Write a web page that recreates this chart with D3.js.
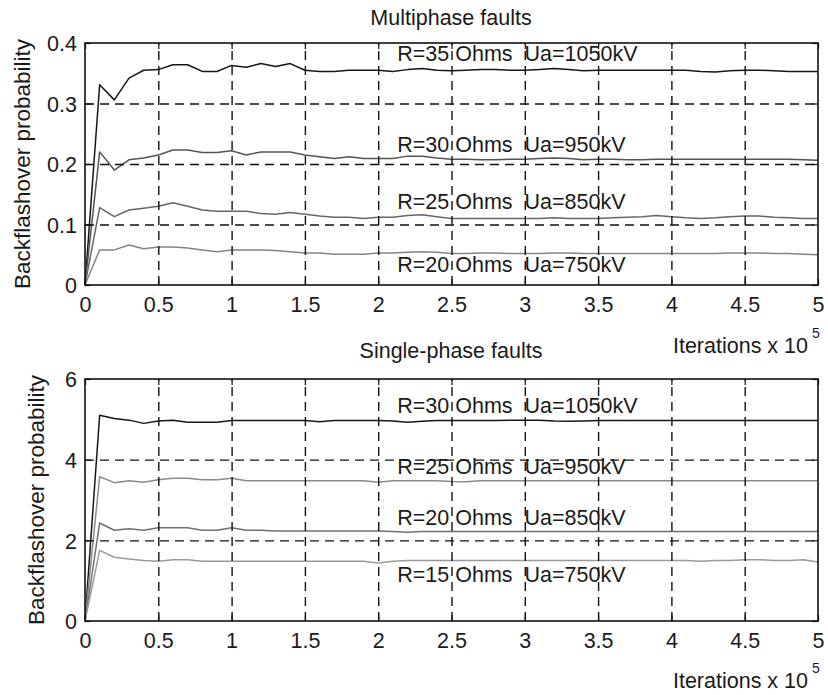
<!DOCTYPE html>
<html>
<head>
<meta charset="utf-8">
<script src="https://cdn.jsdelivr.net/npm/d3@7"></script>
<style>
  html, body { margin: 0; padding: 0; background: #fff; }
  svg { display: block; }
  text { font-family: "Liberation Sans", Arial, Helvetica, sans-serif; fill: #1a1a1a; }
</style>
</head>
<body>
<svg id="chart" width="828" height="695"></svg>
<script>
// ---------------- DATA ----------------
const iterations = [0,0.1,0.2,0.3,0.4,0.5,0.6,0.7,0.8,0.9,1.0,1.1,1.2,1.3,1.4,1.5,1.6,1.7,1.8,1.9,2.0,2.1,2.2,2.3,2.4,2.5,2.6,2.7,2.8,2.9,3.0,3.1,3.2,3.3,3.4,3.5,3.6,3.7,3.8,3.9,4.0,4.1,4.2,4.3,4.4,4.5,4.6,4.7,4.8,4.9,5.0];

const xTicks = [0,0.5,1,1.5,2,2.5,3,3.5,4,4.5,5];
const multiYTicks = [0,0.1,0.2,0.3,0.4];
const singleYTicks = [0,2,4,6];

const multiR35 = [0,0.331,0.306,0.342,0.355,0.356,0.364,0.364,0.353,0.353,0.363,0.360,0.366,0.361,0.366,0.355,0.353,0.353,0.355,0.355,0.355,0.353,0.356,0.358,0.355,0.354,0.355,0.356,0.356,0.355,0.355,0.356,0.358,0.356,0.354,0.355,0.355,0.355,0.355,0.355,0.355,0.355,0.353,0.352,0.354,0.355,0.355,0.354,0.353,0.353,0.353];
const multiR30 = [0,0.220,0.190,0.207,0.210,0.215,0.223,0.223,0.219,0.219,0.222,0.215,0.220,0.220,0.220,0.215,0.212,0.209,0.212,0.209,0.209,0.209,0.213,0.213,0.210,0.208,0.208,0.207,0.207,0.208,0.208,0.209,0.210,0.209,0.207,0.208,0.208,0.207,0.207,0.208,0.208,0.208,0.208,0.208,0.208,0.208,0.208,0.208,0.208,0.207,0.206];
const multiR25 = [0,0.128,0.113,0.124,0.127,0.130,0.136,0.130,0.124,0.122,0.122,0.122,0.118,0.117,0.120,0.117,0.114,0.112,0.112,0.110,0.112,0.112,0.115,0.116,0.113,0.110,0.110,0.110,0.110,0.110,0.110,0.110,0.111,0.110,0.110,0.110,0.111,0.112,0.113,0.115,0.113,0.111,0.110,0.111,0.113,0.114,0.114,0.112,0.111,0.110,0.110];
const multiR20 = [0,0.058,0.058,0.066,0.060,0.063,0.063,0.061,0.058,0.055,0.058,0.058,0.058,0.057,0.055,0.053,0.053,0.051,0.051,0.051,0.053,0.053,0.054,0.055,0.054,0.052,0.052,0.053,0.053,0.052,0.052,0.052,0.053,0.053,0.052,0.052,0.052,0.052,0.052,0.052,0.052,0.052,0.052,0.052,0.053,0.053,0.053,0.052,0.052,0.051,0.050];

const singleR30 = [0,5.10,5.02,4.98,4.90,4.96,4.98,4.93,4.93,4.93,4.97,4.97,4.97,4.97,4.97,4.97,4.94,4.97,4.97,4.97,4.97,4.96,4.93,4.95,4.97,4.97,4.97,4.97,4.97,4.98,4.98,4.98,4.96,4.95,4.96,4.97,4.97,4.97,4.97,4.97,4.97,4.97,4.97,4.97,4.97,4.97,4.97,4.97,4.97,4.97,4.97];
const singleR25 = [0,3.58,3.43,3.48,3.44,3.50,3.54,3.54,3.50,3.50,3.54,3.48,3.48,3.48,3.48,3.48,3.48,3.48,3.48,3.48,3.44,3.48,3.48,3.48,3.48,3.46,3.45,3.48,3.48,3.48,3.48,3.48,3.48,3.48,3.48,3.48,3.48,3.48,3.48,3.48,3.48,3.48,3.48,3.48,3.48,3.48,3.48,3.48,3.48,3.48,3.48];
const singleR20 = [0,2.43,2.25,2.29,2.25,2.31,2.31,2.31,2.25,2.25,2.31,2.25,2.25,2.23,2.23,2.23,2.23,2.23,2.23,2.23,2.23,2.22,2.20,2.22,2.22,2.22,2.22,2.22,2.22,2.22,2.22,2.22,2.22,2.22,2.22,2.22,2.22,2.22,2.22,2.22,2.22,2.22,2.22,2.22,2.22,2.22,2.22,2.22,2.22,2.22,2.22];
const singleR15 = [0,1.75,1.58,1.54,1.50,1.48,1.52,1.52,1.48,1.48,1.48,1.48,1.48,1.48,1.48,1.48,1.48,1.48,1.48,1.48,1.44,1.48,1.50,1.50,1.50,1.50,1.50,1.50,1.50,1.50,1.50,1.50,1.50,1.50,1.50,1.50,1.50,1.50,1.50,1.50,1.50,1.50,1.48,1.50,1.50,1.52,1.52,1.50,1.50,1.52,1.46];

const multiLabels = ["R=35 Ohms  Ua=1050kV","R=30 Ohms  Ua=950kV","R=25 Ohms  Ua=850kV","R=20 Ohms  Ua=750kV"];
const multiLabelX = [2.13,2.13,2.13,2.13];
const multiLabelY = [0.370,0.220,0.126,0.022];
const singleLabels = ["R=30 Ohms  Ua=1050kV","R=25 Ohms  Ua=950kV","R=20 Ohms  Ua=850kV","R=15 Ohms  Ua=750kV"];
const singleLabelX = [2.13,2.13,2.13,2.13];
const singleLabelY = [5.16,3.645,2.38,0.967];

const multiColors = ["#161616","#555555","#666666","#858585"];
const singleColors = ["#161616","#8a8a8a","#707070","#9a9a9a"];

// ---------------- DRAW ----------------
const svg = d3.select("#chart");
const FS = 21.5;

function panel(cfg) {
  const x = d3.scaleLinear().domain([0,5]).range([85,818]);
  const y = d3.scaleLinear().domain(cfg.yDomain).range([cfg.bottom, cfg.top]);
  const g = svg.append("g");

  // lines
  const line = d3.line().x((d,i)=>x(iterations[i])).y(d=>y(d));
  cfg.series.forEach((s,k)=>{
    g.append("path").datum(s).attr("d", line)
      .attr("fill","none").attr("stroke", cfg.colors[k]).attr("stroke-width",1.5)
      .attr("stroke-linejoin","round");
  });

  // annotations
  cfg.labels.forEach((t,k)=>{
    g.append("text").attr("x", x(cfg.labelX[k])).attr("y", y(cfg.labelY[k]))
      .attr("font-size", FS).style("white-space","pre").text(t);
  });

  // grid (on top, like MATLAB layer top)
  const gridTicksY = cfg.yTicks.filter(v => v !== cfg.yDomain[0] && v !== cfg.yDomain[1]);
  const gridTicksX = xTicks.filter(v => v !== 0 && v !== 5);
  g.append("g").attr("transform",`translate(0,${cfg.bottom})`)
    .call(d3.axisBottom(x).tickValues(gridTicksX).tickSize(-(cfg.bottom-cfg.top)).tickFormat(""))
    .call(a=>a.select(".domain").remove())
    .call(a=>a.selectAll("line").attr("stroke","#111").attr("stroke-width",1.4).attr("stroke-dasharray","9,6"));
  g.append("g").attr("transform",`translate(85,0)`)
    .call(d3.axisLeft(y).tickValues(gridTicksY).tickSize(-(818-85)).tickFormat(""))
    .call(a=>a.select(".domain").remove())
    .call(a=>a.selectAll("line").attr("stroke","#111").attr("stroke-width",1.4).attr("stroke-dasharray","9,6"));

  // axes with inward ticks
  const ax = g.append("g").attr("transform",`translate(0,${cfg.bottom})`)
    .call(d3.axisBottom(x).tickValues(xTicks).tickSize(-6).tickPadding(20).tickFormat(d3.format("")));
  ax.select(".domain").remove();
  ax.selectAll("line").attr("stroke","#111").attr("stroke-width",1.2);
  ax.selectAll("text").attr("font-size",FS).attr("font-family","Liberation Sans, Arial, sans-serif").attr("fill","#1a1a1a").attr("dy","0.72em").attr("y",12);

  const axTop = g.append("g").attr("transform",`translate(0,${cfg.top})`)
    .call(d3.axisTop(x).tickValues(xTicks).tickSize(-6).tickFormat(""));
  axTop.select(".domain").remove();
  axTop.selectAll("line").attr("stroke","#111").attr("stroke-width",1.2);

  const ay = g.append("g").attr("transform",`translate(85,0)`)
    .call(d3.axisLeft(y).tickValues(cfg.yTicks).tickSize(-6).tickPadding(8).tickFormat(d3.format("")));
  ay.select(".domain").remove();
  ay.selectAll("line").attr("stroke","#111").attr("stroke-width",1.2);
  ay.selectAll("text").attr("font-size",FS).attr("font-family","Liberation Sans, Arial, sans-serif").attr("fill","#1a1a1a").attr("x",-8).attr("dy","0.36em");

  const ayR = g.append("g").attr("transform",`translate(818,0)`)
    .call(d3.axisRight(y).tickValues(cfg.yTicks).tickSize(-6).tickFormat(""));
  ayR.select(".domain").remove();
  ayR.selectAll("line").attr("stroke","#111").attr("stroke-width",1.2);

  // box
  g.append("rect").attr("x",85).attr("y",cfg.top).attr("width",818-85).attr("height",cfg.bottom-cfg.top)
    .attr("fill","none").attr("stroke","#111").attr("stroke-width",1.6);

  // title
  g.append("text").attr("x",451).attr("y",cfg.titleY).attr("text-anchor","middle")
    .attr("font-size",FS).text(cfg.title);

  // y label
  g.append("text").attr("transform",`translate(${cfg.ylabelX},${(cfg.top+cfg.bottom)/2}) rotate(-90)`)
    .attr("text-anchor","middle").attr("font-size",22.5).text("Backflashover probability");

  // x label
  g.append("text").attr("x",808).attr("y",cfg.xlabelY).attr("text-anchor","end")
    .attr("font-size",FS).text("Iterations x 10");
  g.append("text").attr("x",812).attr("y",cfg.xlabelY-15).attr("font-size",14).text("5");
}

panel({
  yDomain:[0,0.4], top:43, bottom:285, yTicks:multiYTicks,
  series:[multiR35,multiR30,multiR25,multiR20], colors:multiColors,
  labels:multiLabels, labelX:multiLabelX, labelY:multiLabelY,
  title:"Multiphase faults", titleY:25, ylabelX:30, xlabelY:353
});
panel({
  yDomain:[0,6], top:379, bottom:621, yTicks:singleYTicks,
  series:[singleR30,singleR25,singleR20,singleR15], colors:singleColors,
  labels:singleLabels, labelX:singleLabelX, labelY:singleLabelY,
  title:"Single-phase faults", titleY:358, ylabelX:44, xlabelY:688
});
</script>
</body>
</html>
